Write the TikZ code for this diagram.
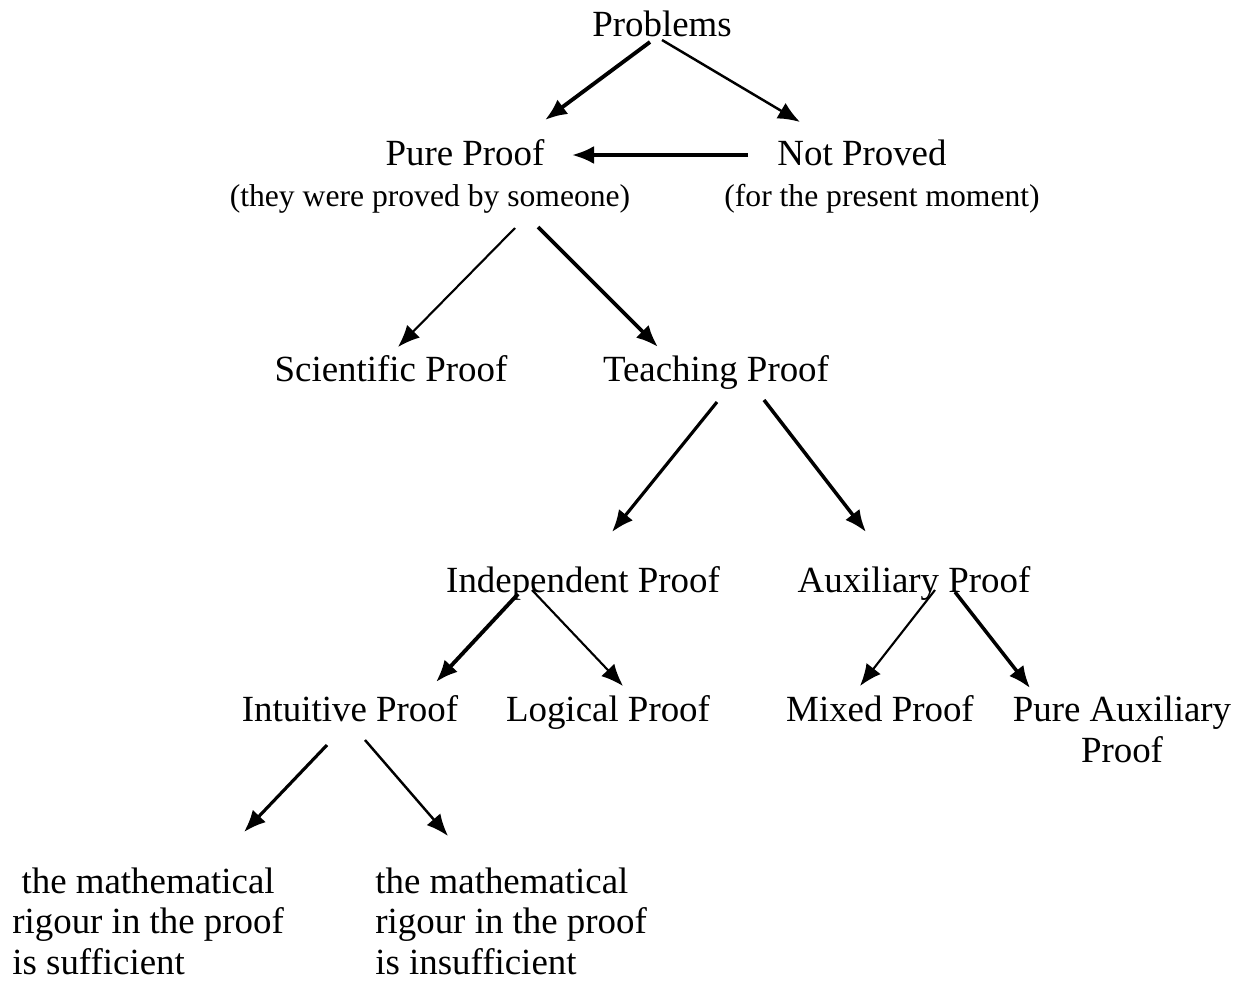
\documentclass[tikz,border=0pt]{standalone}
\usepackage{fontspec}
\setmainfont{Liberation Serif}
\usepackage{tikz}
\usetikzlibrary{arrows.meta}
\tikzset{edge/.style = {->,> = {Latex[length=0.44cm,width=0.36cm]}}}

\begin{document}
\begin{tikzpicture}[x=0.02cm,y=-0.02cm,main node/.style={inner sep=0pt,anchor=base,font=\fontsize{21}{22.8}\selectfont},note node/.style={inner sep=0pt,anchor=base,font=\fontsize{18}{20}\selectfont},leaf node/.style={main node,anchor=base west,align=left}]
                \useasboundingbox (0,0) rectangle (1240,981);

                \node[main node] (prob) at (662,36) {Problems};
                \node[main node] (pure) at (465,165) {Pure Proof};
                \node[main node] (notp) at (862,165) {Not Proved};
                \node[note node] (they) at (430,206) {(they were proved by someone)};
                \node[note node] (pres) at (882,206) {(for the present moment)};
                \node[main node] (sci) at (391,381) {Scientific Proof};
                \node[main node] (teach) at (716,381) {Teaching Proof};
                \node[main node] (indep) at (583,592) {Independent Proof};
                \node[main node] (aux) at (914,592) {Auxiliary Proof};
                \node[main node] (intu) at (350,721) {Intuitive Proof};
                \node[main node] (logi) at (608,721) {Logical Proof};
                \node[main node] (mixed) at (880,721) {Mixed Proof};
                \node[main node,align=center] (pureaux) at (1122,762) {Pure Auxiliary\\Proof};
                \node[leaf node] (suff) at (12,974) {\ the mathematical\\rigour in the proof\\is sufficient};
                \node[leaf node] (insuff) at (375,974) {the mathematical\\rigour in the proof\\is insufficient};

                \draw[edge,line width=2.2pt] ([shift={(-12,6)}]prob.base) -- ([shift={(80,-45)}]pure.base);
                \draw[edge,line width=1.4pt] ([shift={(0,4)}]prob.base) -- ([shift={(-62,-43)}]notp.base);
                \draw[edge,line width=2pt] ([shift={(-114,-10)}]notp.base) -- ([shift={(107,-10)}]pure.base);
                \draw[edge,line width=1.2pt] ([shift={(85,22)}]they.base) -- ([shift={(7,-34)}]sci.base);
                \draw[edge,line width=2.2pt] ([shift={(108,21)}]they.base) -- ([shift={(-58,-34)}]teach.base);
                \draw[edge,line width=1.8pt] ([shift={(1,21)}]teach.base) -- ([shift={(29,-60)}]indep.base);
                \draw[edge,line width=2pt] ([shift={(48,19)}]teach.base) -- ([shift={(-48,-60)}]aux.base);
                \draw[edge,line width=2.2pt] ([shift={(-65,2)}]indep.base) -- ([shift={(86,-39)}]intu.base);
                \draw[edge,line width=1.2pt] ([shift={(-51,-2)}]indep.base) -- ([shift={(15,-35)}]logi.base);
                \draw[edge,line width=1.2pt] ([shift={(21,-2)}]aux.base) -- ([shift={(-20,-35)}]mixed.base);
                \draw[edge,line width=2pt] ([shift={(41,0)}]aux.base) -- ([shift={(-92,-74)}]pureaux.base);
                \draw[edge,line width=1.8pt] ([shift={(-23,24)}]intu.base) -- ([shift={(232,-142)}]suff.base west);
                \draw[edge,line width=1.4pt] ([shift={(15,19)}]intu.base) -- ([shift={(73,-138)}]insuff.base west);
            \end{tikzpicture}
\end{document}
